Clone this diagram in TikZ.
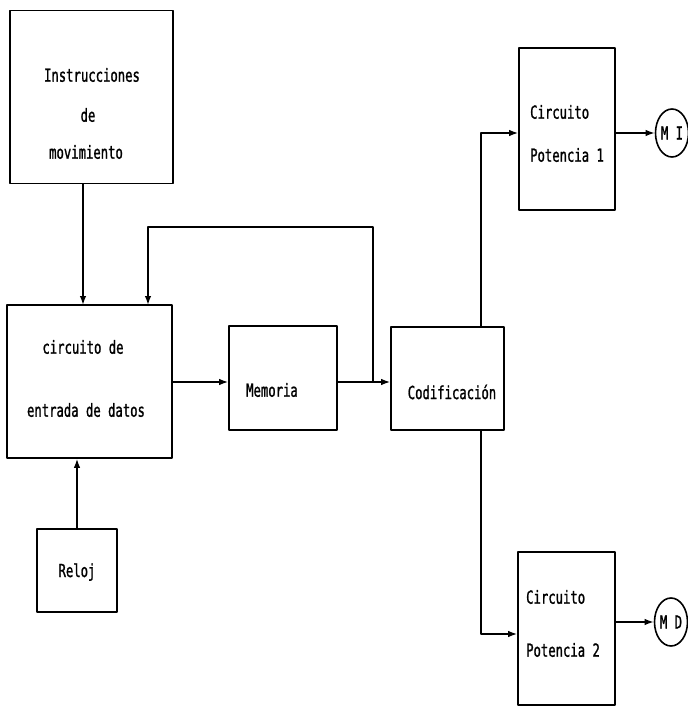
\documentclass[tikz,border=0pt]{standalone}
\usepackage{fontspec}
\newfontfamily\plotfont[FakeStretch=0.68,FakeBold=1.2]{DejaVu Sans Mono}
\usetikzlibrary{arrows.meta,shapes.geometric}

\begin{document}
\begin{tikzpicture}[x=1pt,y=-1pt,>={Latex[length=9pt,width=6.5pt]},line join=round,
  blk/.style={draw,line width=1.6pt,inner sep=0pt},
  txt/.style={font=\plotfont\fontsize{18}{20}\selectfont,inner sep=0pt},
  motor/.style={draw,ellipse,line width=1.6pt,minimum width=33pt,minimum height=48pt,inner sep=0pt,font=\plotfont\fontsize{18}{20}\selectfont},
  wire/.style={line width=1.6pt}]
  \useasboundingbox (0,0) rectangle (688,707);
  \node[blk,minimum width=163pt,minimum height=173pt] (instr) at (91.5,97) {};
  \node[blk,minimum width=165pt,minimum height=153pt] (circ) at (89.5,381.5) {};
  \node[blk,minimum width=108pt,minimum height=104pt] (mem) at (283,378) {};
  \node[blk,minimum width=113pt,minimum height=103pt] (cod) at (447.5,378.5) {};
  \node[blk,minimum width=96pt,minimum height=162pt] (pot1) at (567,129) {};
  \node[blk,minimum width=97pt,minimum height=153pt] (pot2) at (566.5,628.5) {};
  \node[blk,minimum width=80pt,minimum height=83pt] (reloj) at (77,570.5) {};
  \node[motor] (mi) at (672,133) {M I};
  \node[motor] (md) at (671,622) {M D};
  \node[txt] (t1) at (92,75) {Instrucciones};
  \node[txt] (t2) at (88,115) {de};
  \node[txt] (t3) at (86,152) {movimiento};
  \node[txt] (t4) at (83,347) {circuito de};
  \node[txt] (t5) at (86,410) {entrada de datos};
  \node[txt] (t6) at (272,390) {Memoria};
  \node[txt] (t7) at (452,392) {Codificación};
  \node[txt,anchor=west] (t8) at (530,112) {Circuito};
  \node[txt,anchor=west] (t9) at (530,155) {Potencia 1};
  \node[txt,anchor=west] (t10) at (526,597) {Circuito};
  \node[txt,anchor=west] (t11) at (526,650) {Potencia 2};
  \node[txt] (t12) at (77,572) {Reloj};
  \coordinate (inA) at (83,305);
  \coordinate (inB) at (148,305);
  \coordinate (tap) at (373,382);
  \coordinate (br) at (481,382);
  \draw[wire,->] (instr.south -| inA) -- (inA);
  \draw[wire,->] (reloj.north) -- (reloj.north |- circ.south);
  \draw[wire,->] (circ.east |- tap) -- (mem.west |- tap);
  \draw[wire,->] (mem.east |- tap) -- (cod.west |- tap);
  \draw[wire,->] (tap) -- (373,227) -- (148,227) -- (inB);
  \draw[wire,->] (cod.north -| br) -- (br |- mi) -- (pot1.west |- mi);
  \draw[wire,->] (cod.south -| br) -- (481,634) -- (pot2.west |- 481,634);
  \draw[wire,->] (pot1.east |- mi) -- (mi.west);
  \draw[wire,->] (pot2.east |- md) -- (md.west);
\end{tikzpicture}
\end{document}
